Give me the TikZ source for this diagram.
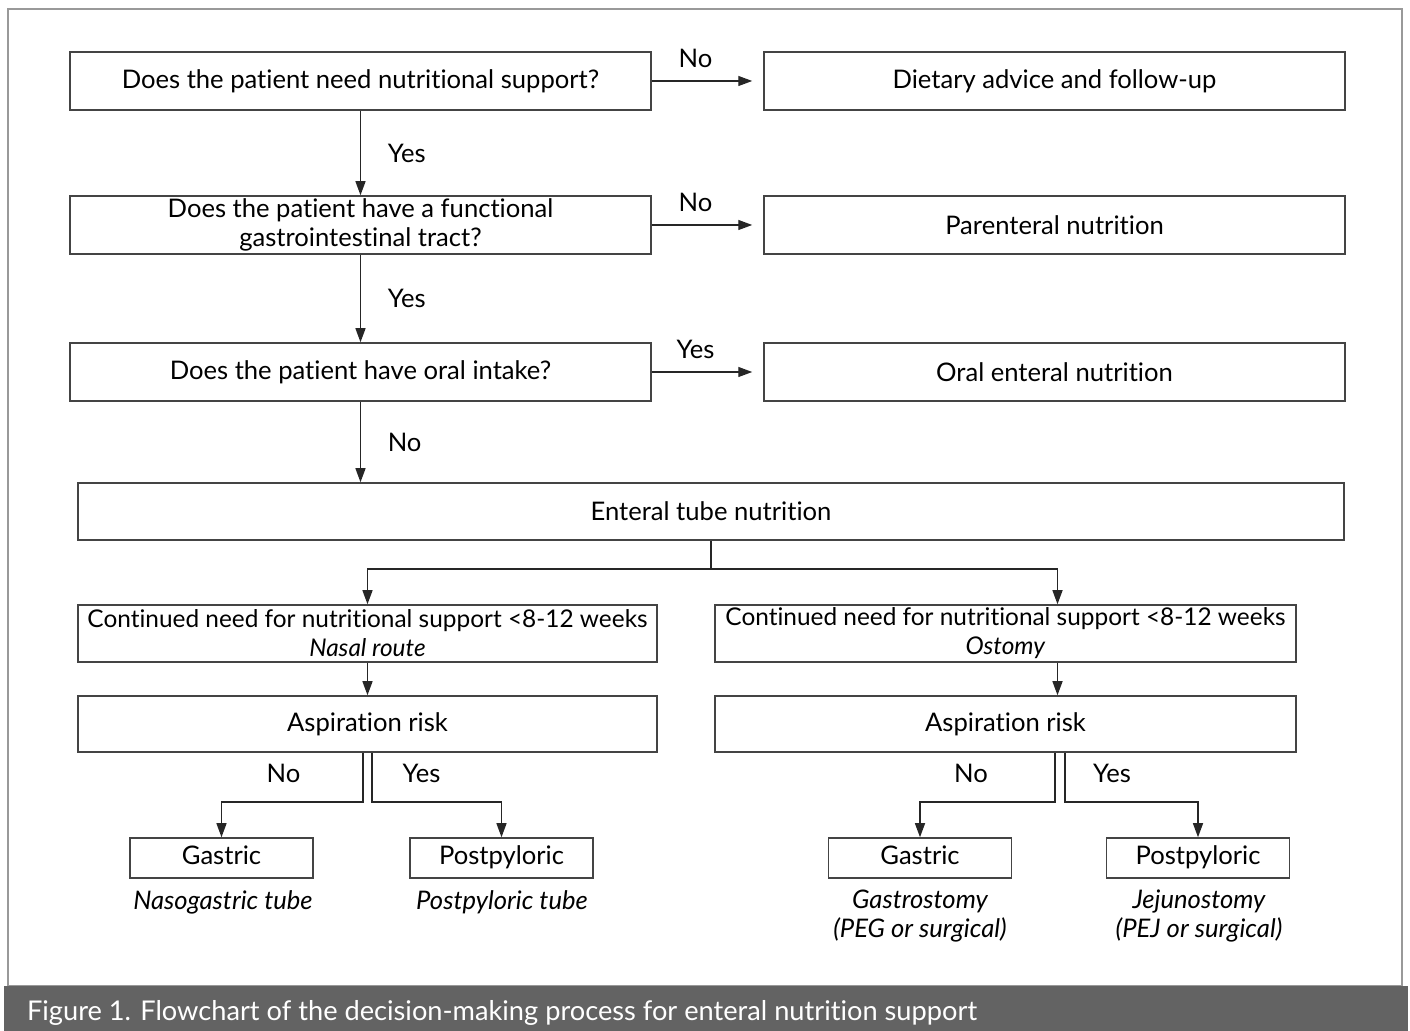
\documentclass[tikz,border=0pt]{standalone}
\usepackage{fontspec}
\setmainfont{Lato}[Ligatures=NoCommon]
\usetikzlibrary{arrows.meta}
\definecolor{capgray}{HTML}{636363}
\definecolor{linegray}{HTML}{444444}
\begin{document}
\begin{tikzpicture}[x=0.5pt,y=-0.5pt,font=\fontsize{12.8}{14.5}\selectfont]
    \tikzstyle{box}=[rectangle,draw=linegray,line width=0.75pt,fill=white,align=center,inner sep=0pt,minimum width=290.5pt,minimum height=29pt]
    \tikzstyle{wide}=[box,minimum height=28.5pt,font=\fontsize{12.2}{14.5}\selectfont]
    \tikzstyle{small}=[box,minimum width=91.5pt,minimum height=20pt,text height=1.6ex,text depth=0.4ex]
    \tikzstyle{arr}=[-{Triangle[length=7pt,width=5pt]},line width=0.65pt,draw=black!85]
    \tikzstyle{note}=[align=center,font=\fontsize{12.8}{14.5}\selectfont\itshape]
    \useasboundingbox (0,0) rectangle (1410,1031);
    \draw[black!40,line width=0.8pt] (8,9) rectangle (1402,986);

    \foreach \num/\y/\txt in {1/81/{Does the patient need nutritional support?}, 2/225/{Does the patient have a functional\\gastrointestinal tract?}, 3/372/{Does the patient have oral intake?}}
        \node[box] (Q-\num) at (360.5,\y) {\txt};
    \foreach \num/\y/\txt in {1/81/{Dietary advice and follow-up}, 2/225/{Parenteral nutrition}, 3/372/{Oral enteral nutrition}}
        \node[box] (R-\num) at (1054.5,\y) {\txt};

    \foreach \num/\ans in {1/No, 2/No, 3/Yes}
        \draw[arr,shorten >=5.5pt] (Q-\num) -- node[above=3pt,xshift=-6pt] {\ans} (R-\num);

    \node[box,minimum width=633pt,minimum height=28.5pt] (tube) at (711,511.5) {Enteral tube nutrition};

    \draw[arr] (Q-1) -- node[right=10pt] {Yes} (Q-2);
    \draw[arr] (Q-2) -- node[right=10pt] {Yes} (Q-3);
    \draw[arr] (Q-3.south) -- node[right=10pt] {No} (Q-3.south |- tube.north);

    \node[wide,minimum width=289.5pt] (cont-l) at (367.5,633.5) {Continued need for nutritional support <8-12 weeks\\\textit{Nasal route}};
    \node[wide] (cont-r) at (1005.5,633.5) {Continued need for nutritional support <8-12 weeks\\\textit{Ostomy}};
    \node[box,minimum width=289.5pt,minimum height=28pt] (asp-l) at (367.5,724) {Aspiration risk};
    \node[box,minimum width=290.5pt,minimum height=28pt] (asp-r) at (1005.5,724) {Aspiration risk};

    \coordinate (fork) at (tube.south |- 0,569);
    \draw[line width=0.65pt,draw=black!85] (tube.south) -- (fork);
    \draw[arr] (fork) -| (cont-l.north);
    \draw[arr] (fork) -| ([xshift=26pt]cont-r.north);
    \draw[arr] (cont-l) -- (asp-l);
    \draw[arr] ([xshift=26pt]cont-r.south) -- ([xshift=26pt]asp-r.north);

    \node[small] (gas-l) at (221.5,858) {Gastric};
    \node[small] (post-l) at (501.5,858) {Postpyloric};
    \node[small] (gas-r) at (920,858) {Gastric};
    \node[small] (post-r) at (1198,858) {Postpyloric};

    \draw[arr] ([xshift=-2.25pt]asp-l.south) |- (gas-l.north |- 0,802) node[above=6pt,xshift=31pt] {No} -- (gas-l.north);
    \draw[arr] ([xshift=2.25pt]asp-l.south) |- (post-l.north |- 0,802) node[above=6pt,xshift=-40pt] {Yes} -- (post-l.north);
    \draw[arr] ([xshift=24.75pt]asp-r.south) |- (gas-r.north |- 0,802) node[above=6pt,xshift=25.5pt] {No} -- (gas-r.north);
    \draw[arr] ([xshift=29.75pt]asp-r.south) |- (post-r.north |- 0,802) node[above=6pt,xshift=-43pt] {Yes} -- (post-r.north);

    \node[note] (tube-l) at (223,902) {Nasogastric tube};
    \node[note] (tube-p) at (502,902) {Postpyloric tube};
    \node[note] (stoma-g) at (920,916) {Gastrostomy\\(PEG or surgical)};
    \node[note] (stoma-j) at (1199,916) {Jejunostomy\\(PEJ or surgical)};

    \fill[capgray] (4,986) rectangle (1408,1031);
    \node[anchor=west,text=white,font=\fontsize{13.6}{15}\selectfont] (caption) at (20,1013) {Figure 1. Flowchart of the decision-making process for enteral nutrition support};
\end{tikzpicture}
\end{document}
